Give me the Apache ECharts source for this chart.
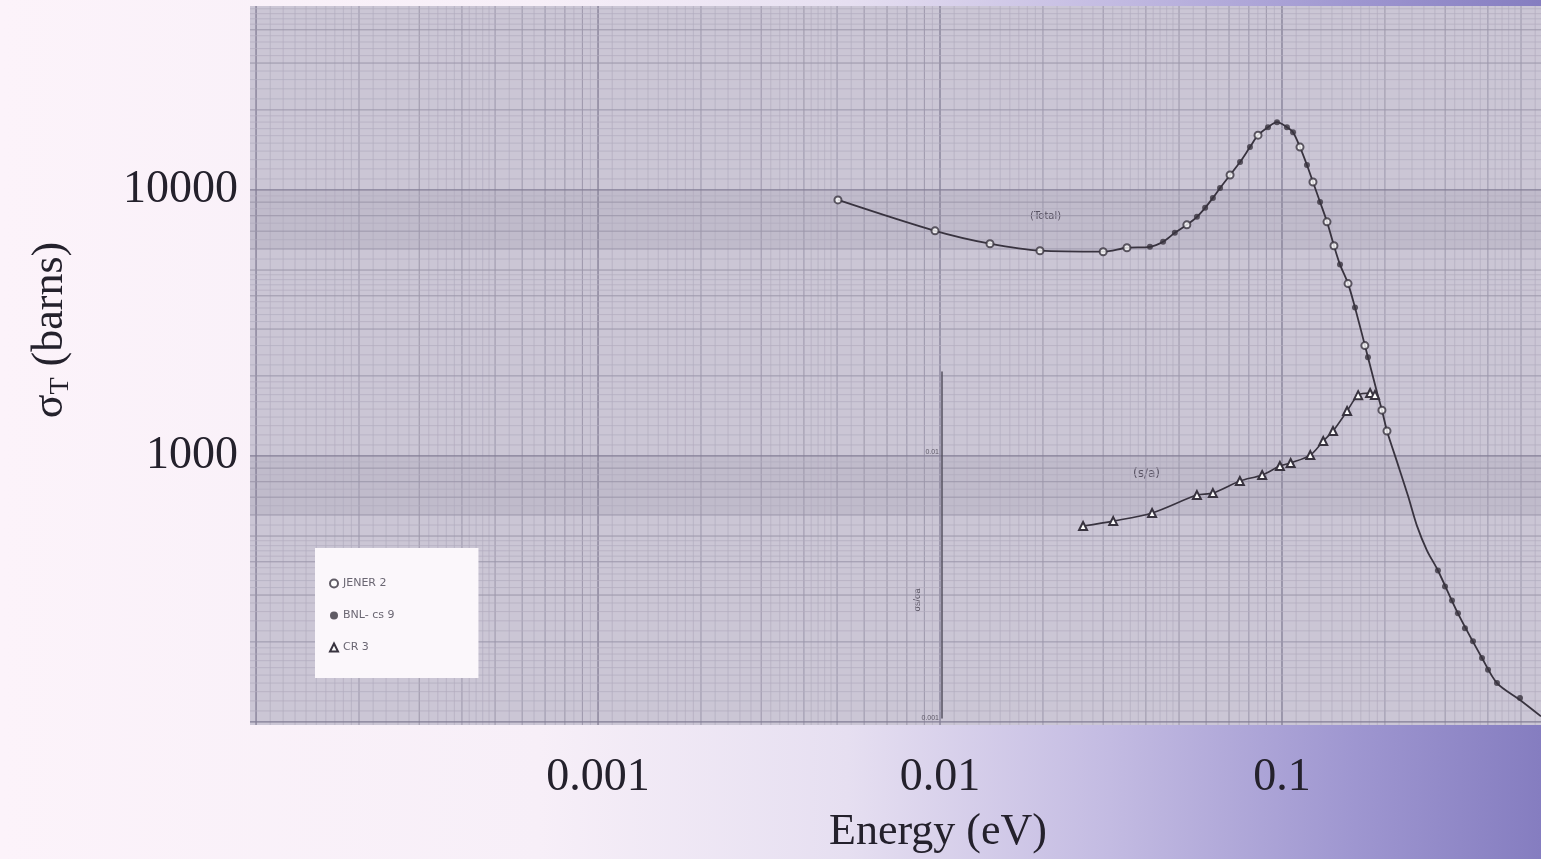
<!DOCTYPE html>
<html><head><meta charset="utf-8">
<script src="https://cdn.jsdelivr.net/npm/echarts@6/dist/echarts.min.js"></script>
<style>
html,body{margin:0;padding:0;width:1541px;height:859px;overflow:hidden;}
body{background:linear-gradient(to right,#fcf3fa 0%,#f7eff8 35%,#e6dff1 55%,#c3bbe2 72%,#9e96d0 88%,#857dc0 100%);}
#chart{width:1541px;height:859px;}
</style></head><body><div id="chart"></div>
<script>
// ---- tick labels ----
const xTickValues = [0.001, 0.01, 0.1];
const xTickLabels = ['0.001', '0.01', '0.1'];
const yTickValues = [1000, 10000];
const yTickLabels = ['1000', '10000'];
const ratioTickValues = [0.001, 0.01];
const ratioTickLabels = ['0.001', '0.01'];

// ---- total cross section curve (Energy eV, sigma barns) ----
const totalE = [0.00503,0.00967,0.0140,0.0196,0.0300,0.0352,0.0411,0.0449,0.0486,0.0527,0.0564,0.0596,0.0628,0.0659,0.0705,0.0754,0.0806,0.0851,0.0910,0.0967,0.1034,0.1077,0.1129,0.1183,0.1232,0.1292,0.1354,0.1419,0.1478,0.156,0.1635,0.1784,0.1896,0.196,0.2028,0.217,0.2336,0.248,0.2655,0.2858,0.327,0.3845,0.4253,0.4966,0.572];
const totalSigma = [9175,7020,6280,5910,5860,6065,6115,6385,6900,7395,7925,8565,9335,10170,11380,12730,14490,16070,17220,17980,17220,16490,14490,12410,10710,9015,7590,6170,5240,4446,3615,2350,1736,1487,1241,950,708,547,441,371,256,174,140,121,105];

// ---- JENER 2 (open circles) ----
const jenerE = [0.00503,0.00967,0.0140,0.0196,0.0300,0.0352,0.0527,0.0705,0.0851,0.1129,0.1232,0.1354,0.1419,0.156,0.1747,0.196,0.2028];
const jenerSigma = [9175,7020,6280,5910,5860,6065,7395,11380,16070,14490,10710,7590,6170,4446,2600,1487,1241];

// ---- BNL-cs 9 (filled dots) ----
const bnlE = [0.0411,0.0449,0.0486,0.0564,0.0596,0.0628,0.0659,0.0754,0.0806,0.0910,0.0967,0.1034,0.1077,0.1183,0.1292,0.1478,0.1635,0.1784,0.2858,0.2997,0.3141,0.3270,0.3428,0.3618,0.3845,0.4004,0.4253,0.4966];
const bnlSigma = [6115,6385,6900,7925,8565,9335,10170,12730,14490,17220,17980,17220,16490,12410,9015,5240,3615,2350,371,323,286,256,225,201,174,157,140,123];

// ---- CR 3 (triangles), ratio sigma_s/sigma_a on inner axis ----
const crE = [0.0262,0.0321,0.0417,0.0564,0.0628,0.0753,0.0875,0.0986,0.106,0.121,0.132,0.141,0.155,0.167,0.181,0.187];
const crRatio = [0.00527,0.00550,0.00590,0.00689,0.00701,0.00778,0.00820,0.00886,0.0091,0.00974,0.0110,0.0120,0.01426,0.01637,0.01667,0.0164];

// ---- axis ranges ----
const xMin = 0.000096, xMax = 0.572;
const yMin = 97.4, yMax = 49160;
const rMin = 0.001, rMax = 0.02;

const zip = (a, b) => a.map((v, i) => [v, b[i]]);
function labelFor(values, labels) {
  return function (v) {
    for (let i = 0; i < values.length; i++) {
      if (Math.abs(Math.log10(v) - Math.log10(values[i])) < 1e-6) return labels[i];
    }
    return '';
  };
}
// graph-paper lines (decoration) computed from decades
function paper(lo, hi) {
  const out = [];
  for (let e = Math.floor(Math.log10(lo)); e <= Math.ceil(Math.log10(hi)); e++) {
    const b = Math.pow(10, e);
    const ms = [];
    for (let m = 10; m < 20; m += 1) ms.push(m / 10);
    for (let m = 20; m < 50; m += 2) ms.push(m / 10);
    for (let m = 50; m < 100; m += 5) ms.push(m / 10);
    ms.forEach(m => {
      const v = m * b;
      if (v > lo && v < hi) {
        const lvl = m === 1 ? 0 : (Number.isInteger(m) ? 1 : 2);
        out.push([v, lvl]);
      }
    });
  }
  return out;
}
const lineCol = ['#827d94', '#9b96aa', '#b1acbe'];
const lineW = [1.3, 1, 0.7];
const vLines = paper(xMin, xMax).map(d => [d[0], yMin, d[1]]);
const hLines = paper(yMin, yMax).map(d => [xMin, d[0], d[1]]);
// darker bands just below each decade line (inside the plot only)
const bands = [];
for (let e = 2; e <= 4; e++) { const v = Math.pow(10, e); if (v < yMax && v * 0.6 > yMin) bands.push([xMin, v]); }

const FONT = 'Liberation Serif';
const curveColor = '#38333f';

const chart = echarts.init(document.getElementById('chart'), null, { renderer: 'canvas' });
chart.setOption({
  backgroundColor: 'transparent',
  animation: false,
  grid: [
    { left: 250, right: 0, top: 6, bottom: 134, show: true, backgroundColor: '#cbc6d5', borderWidth: 0 },
    { left: 250, right: 0, top: 372, bottom: 141, show: false }
  ],
  xAxis: [
    { type: 'log', gridIndex: 0, min: xMin, max: xMax, logBase: 10,
      axisLine: { show: false }, axisTick: { show: false }, splitLine: { show: false },
      axisLabel: { formatter: labelFor(xTickValues, xTickLabels), fontFamily: FONT, fontSize: 46, color: '#24212c', margin: 30, showMinLabel: false, showMaxLabel: false } },
    { type: 'log', gridIndex: 1, min: xMin, max: xMax, show: false }
  ],
  yAxis: [
    { type: 'log', gridIndex: 0, min: yMin, max: yMax,
      axisLine: { show: false }, axisTick: { show: false }, splitLine: { show: false },
      axisLabel: { formatter: labelFor(yTickValues, yTickLabels), fontFamily: FONT, fontSize: 46, color: '#24212c', margin: 12, showMinLabel: false, showMaxLabel: false } },
    { type: 'log', gridIndex: 1, min: rMin, max: rMax, position: 'left', offset: -692,
      axisLine: { show: true, lineStyle: { color: '#55505f', width: 1.5 } },
      axisTick: { show: false }, splitLine: { show: false },
      axisLabel: { formatter: labelFor(ratioTickValues, ratioTickLabels), fontSize: 7, color: '#5f5a68', margin: 3, showMaxLabel: false } }
  ],
  legend: {
    left: 315, top: 548, orient: 'vertical', itemGap: 21, itemWidth: 8, itemHeight: 8,
    backgroundColor: '#fbf7fb', padding: [30, 84, 25, 14],
    textStyle: { fontSize: 11, color: '#6a6672', fontFamily: 'DejaVu Sans' },
    data: [
      { name: 'JENER 2', icon: 'emptyCircle' },
      { name: 'BNL- cs 9', icon: 'circle' },
      { name: 'CR 3', icon: 'emptyTriangle' }
    ]
  },
  graphic: [
    { type: 'text', left: 1030, top: 211, style: { text: '(Total)', fontSize: 10, fill: '#55505f', fontFamily: 'DejaVu Sans' } },
    { type: 'text', left: 1133, top: 468, style: { text: '(s/a)', fontSize: 12, fill: '#55505f', fontFamily: 'DejaVu Sans' } },
    { type: 'text', x: 918, y: 600, rotation: Math.PI / 2, style: { text: 'σs/σa', fontSize: 9, fill: '#55505f', align: 'center', verticalAlign: 'middle' } },
    { type: 'text', x: 938, y: 832, style: { text: 'Energy (eV)', fontFamily: FONT, fontSize: 44, fill: '#24212c', align: 'center', verticalAlign: 'middle' } },
    { type: 'text', x: 50, y: 330, rotation: Math.PI / 2,
      style: { text: '{s|σ}{b|T}{s| (barns)}', align: 'center', verticalAlign: 'middle',
        rich: { s: { fontFamily: FONT, fontSize: 44, fill: '#24212c' }, b: { fontFamily: FONT, fontSize: 28, fill: '#24212c', padding: [22, 0, 0, 0] } } } }
  ],
  series: [
    { type: 'custom', name: 'bands', xAxisIndex: 0, yAxisIndex: 0, silent: true, z: 0, clip: true, data: bands,
      renderItem: function (params, api) {
        const v = api.value(1);
        const p1 = api.coord([xMin, v]), p2 = api.coord([xMax, v * 0.6]);
        return { type: 'rect', shape: { x: p1[0], y: p1[1], width: p2[0] - p1[0], height: p2[1] - p1[1] }, style: { fill: 'rgba(110,104,126,0.11)' } };
      } },
    { type: 'custom', name: 'vgrid', xAxisIndex: 0, yAxisIndex: 0, silent: true, z: 0, clip: true, data: vLines,
      renderItem: function (params, api) {
        const v = api.value(0), k = api.value(2);
        const p1 = api.coord([v, yMin]), p2 = api.coord([v, yMax]);
        return { type: 'line', shape: { x1: p1[0], y1: p1[1], x2: p2[0], y2: p2[1] }, style: { stroke: lineCol[k], lineWidth: lineW[k] } };
      } },
    { type: 'custom', name: 'hgrid', xAxisIndex: 0, yAxisIndex: 0, silent: true, z: 0, clip: true, data: hLines,
      renderItem: function (params, api) {
        const v = api.value(1), k = api.value(2);
        const p1 = api.coord([xMin, v]), p2 = api.coord([xMax, v]);
        return { type: 'line', shape: { x1: p1[0], y1: p1[1], x2: p2[0], y2: p2[1] }, style: { stroke: lineCol[k], lineWidth: lineW[k] } };
      } },
    { type: 'line', name: 'Total', xAxisIndex: 0, yAxisIndex: 0, data: zip(totalE, totalSigma), smooth: 0.3, showSymbol: false, symbol: 'none',
      lineStyle: { color: curveColor, width: 1.8 }, z: 3 },
    { type: 'scatter', name: 'JENER 2', xAxisIndex: 0, yAxisIndex: 0, data: zip(jenerE, jenerSigma), symbol: 'emptyCircle', symbolSize: 7,
      itemStyle: { color: curveColor, borderWidth: 1.2 }, z: 4 },
    { type: 'scatter', name: 'BNL- cs 9', xAxisIndex: 0, yAxisIndex: 0, data: zip(bnlE, bnlSigma), symbol: 'circle', symbolSize: 6,
      itemStyle: { color: curveColor }, z: 5 },
    { type: 'line', name: 'CR 3', xAxisIndex: 1, yAxisIndex: 1, data: zip(crE, crRatio), smooth: 0.3, symbol: 'emptyTriangle', symbolSize: 8, showSymbol: true,
      lineStyle: { color: curveColor, width: 1.6 }, itemStyle: { color: curveColor, borderWidth: 1.1 }, z: 4 }
  ]
});
</script></body></html>
